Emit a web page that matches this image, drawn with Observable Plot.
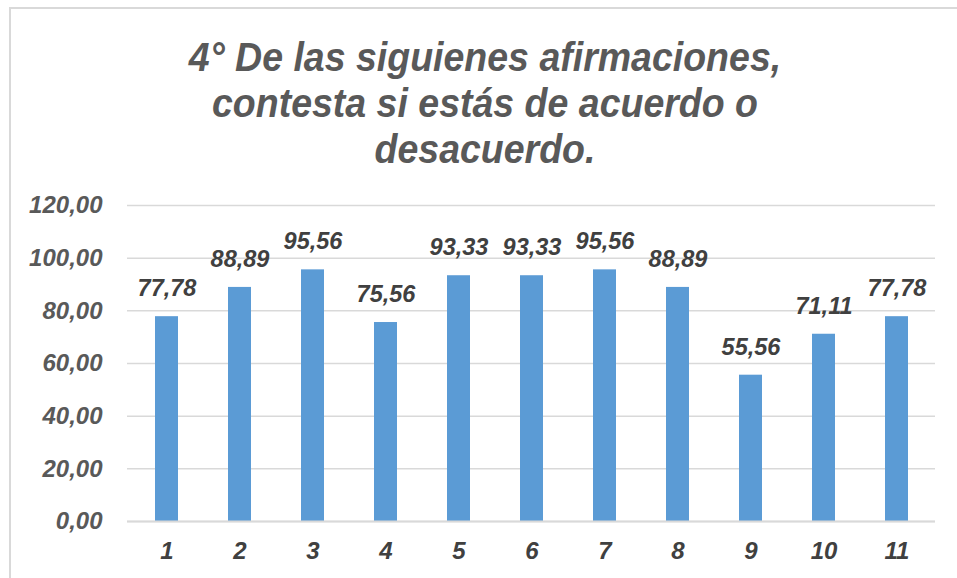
<!DOCTYPE html>
<html>
<head>
<meta charset="utf-8">
<script src="https://cdn.jsdelivr.net/npm/d3@7"></script>
<script src="https://cdn.jsdelivr.net/npm/@observablehq/plot@0.6"></script>
<style>
  html, body { margin: 0; padding: 0; background: #fff; }
  body { width: 957px; height: 578px; overflow: hidden; position: relative; font-family: "Liberation Sans", Arial, sans-serif; }
  #frame { position: absolute; left: 9px; top: 7px; width: 960px; height: 600px; border-left: 2px solid #d9d9d9; border-top: 2px solid #d9d9d9; }
  #title { position: absolute; left: 0; top: 0; width: 957px; height: 180px; }
  #title div { position: absolute; left: 0; width: 970px; text-align: center; font-size: 37.5px; line-height: 40px; font-weight: bold; font-style: italic; color: #595959; transform: scaleY(1.06); }
  #chart { position: absolute; left: 0; top: 180px; }
</style>
</head>
<body>
<div id="frame"></div>
<div id="title">
  <div style="top:37px">4° De las siguienes afirmaciones,</div>
  <div style="top:83px">contesta si estás de acuerdo o</div>
  <div style="top:129px">desacuerdo.</div>
</div>
<div id="chart"></div>
<script>
const categories = ["1", "2", "3", "4", "5", "6", "7", "8", "9", "10", "11"];
const values = [77.78, 88.89, 95.56, 75.56, 93.33, 93.33, 95.56, 88.89, 55.56, 71.11, 77.78];
const yTicks = [0, 20, 40, 60, 80, 100, 120];

const data = categories.map((c, i) => ({cat: c, value: values[i]}));
const fmt = d => d.toFixed(2).replace(".", ",");

const textStyle = {fontWeight: "bold", fontStyle: "italic"};

const chart = Plot.plot({
  width: 957,
  height: 398,
  marginLeft: 127,
  marginRight: 22,
  marginTop: 25,
  marginBottom: 57,
  style: {fontFamily: "'Liberation Sans', Arial, sans-serif", background: "transparent", overflow: "visible"},
  x: {domain: categories, paddingInner: 0.687, paddingOuter: 0.3435, label: null},
  y: {domain: [0, 120], label: null},
  marks: [
    Plot.gridY(yTicks, {stroke: "#d9d9d9", strokeOpacity: 1, strokeWidth: 1.5}),
    Plot.barY(data, {x: "cat", y: "value", fill: "#5b9bd5"}),
    Plot.ruleY([0], {stroke: "#d9d9d9", strokeWidth: 2}),
    Plot.text(data, {x: "cat", y: "value", text: d => fmt(d.value), dy: -28, fill: "#404040", fontSize: 23.5, ...textStyle}),
    Plot.axisY(yTicks, {tickSize: 0, tickPadding: 25, tickFormat: fmt, fill: "#595959", fontSize: 24, ...textStyle, label: null}),
    Plot.axisX({tickSize: 0, tickPadding: 20, fill: "#404040", fontSize: 24, ...textStyle, label: null})
  ]
});
document.getElementById("chart").appendChild(chart);
</script>
</body>
</html>
